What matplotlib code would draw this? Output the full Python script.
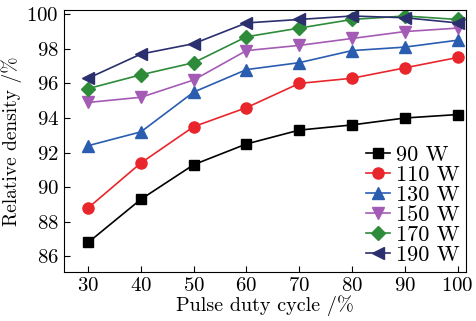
import matplotlib
matplotlib.use("Agg")
import matplotlib.pyplot as plt

plt.rcParams["font.family"] = "serif"
plt.rcParams["font.serif"] = ["cmr10", "DejaVu Serif"]
plt.rcParams["mathtext.fontset"] = "cm"
plt.rcParams["axes.formatter.use_mathtext"] = True
plt.rc("font", size=15)

# data
duty = [30, 40, 50, 60, 70, 80, 90, 100]
labels = ["90 W", "110 W", "130 W", "150 W", "170 W", "190 W"]
d90 = [86.8, 89.3, 91.3, 92.5, 93.3, 93.6, 94.0, 94.2]
d110 = [88.8, 91.4, 93.5, 94.6, 96.0, 96.3, 96.9, 97.5]
d130 = [92.4, 93.2, 95.5, 96.8, 97.2, 97.9, 98.1, 98.5]
d150 = [94.9, 95.2, 96.2, 97.9, 98.2, 98.6, 99.0, 99.2]
d170 = [95.7, 96.5, 97.2, 98.7, 99.2, 99.7, 99.9, 99.7]
d190 = [96.3, 97.7, 98.3, 99.5, 99.7, 99.9, 99.8, 99.5]
series = [d90, d110, d130, d150, d170, d190]

colors = ["black", "#e8262b", "#2a5db0", "#a45bb5", "#2e8b3a", "#2b2f6e"]
markers = ["s", "o", "^", "v", "D", "<"]
sizes = [6.5, 8, 8.5, 8.5, 7, 8.5]

fig = plt.figure(figsize=(4.77, 3.21), dpi=100)
ax = fig.add_axes([0.135, 0.153, 0.842, 0.816])

for y, lab, c, m, s in zip(series, labels, colors, markers, sizes):
    ax.plot(duty, y, color=c, marker=m, markersize=s, linewidth=1.2, label=lab)

ax.set_xlim(25.5, 101.6)
ax.set_ylim(85.1, 100.25)
ax.set_xticks(duty)
ax.set_yticks([86, 88, 90, 92, 94, 96, 98, 100])
ax.tick_params(direction="in", length=4, width=0.8, labelsize=15, pad=4)
for sp in ax.spines.values():
    sp.set_linewidth(0.8)

ax.set_xlabel("Pulse duty cycle /%", fontsize=14.5, labelpad=0)
ax.set_ylabel("Relative density /%", fontsize=14, labelpad=3)

ax.legend(loc="lower right", frameon=False, fontsize=16, handlelength=1.1,
          labelspacing=0.02, handletextpad=0.25, borderaxespad=0.1,
          borderpad=0.2)

fig.savefig("out.png", dpi=100)
